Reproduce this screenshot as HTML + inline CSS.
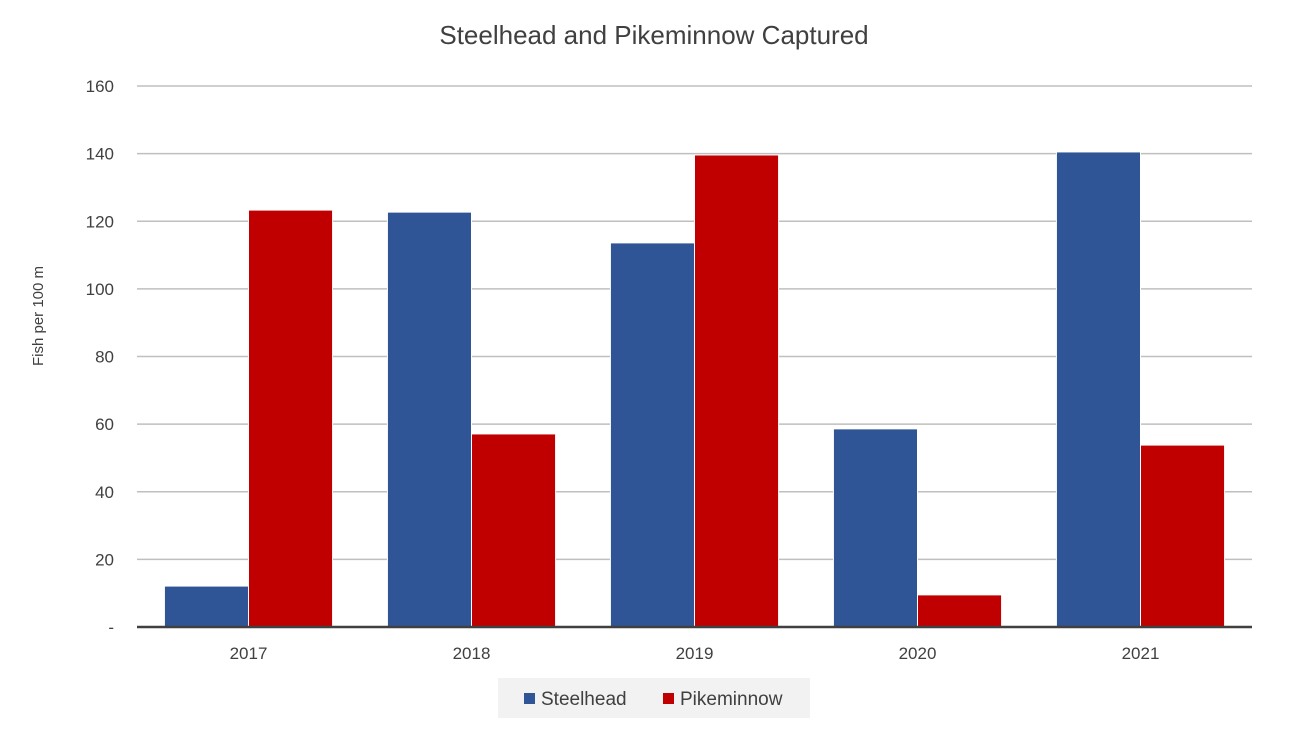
<!DOCTYPE html>
<html><head><meta charset="utf-8"><style>
body{margin:0;background:#fff;font-family:"Liberation Sans",sans-serif;}
svg text{font-family:"Liberation Sans",sans-serif;fill:#404040;}
</style></head><body>
<svg width="1308" height="731">
<text x="654" y="44" font-size="26" text-anchor="middle">Steelhead and Pikeminnow Captured</text>
<text transform="translate(43,316) rotate(-90)" font-size="15" text-anchor="middle">Fish per 100 m</text>
<g id="grid"></g><g id="bars"></g><g id="xl"></g>
<line x1="137" x2="1252" y1="627" y2="627" stroke="#404040" stroke-width="2.5"/>
<rect x="498" y="678" width="312" height="40" fill="#f2f2f2"/>
<rect x="524" y="693" width="11" height="11" fill="#2f5597"/>
<text x="541" y="705" font-size="19">Steelhead</text>
<rect x="663" y="693" width="11" height="11" fill="#c00000"/>
<text x="680" y="705" font-size="19">Pikeminnow</text>
</svg>
<script>
const categories=["2017","2018","2019","2020","2021"];
const steelhead=[12.1,122.7,113.6,58.6,140.5];
const pikeminnow=[123.3,57.1,139.6,9.5,53.8];
const yTicks=[0,20,40,60,80,100,120,140,160];
const yTickLabels=["-","20","40","60","80","100","120","140","160"];
const NS="http://www.w3.org/2000/svg";
const x0=137,x1=1252,yB=627,yT=86,yMax=160;
const y=v=>yB-(v/yMax)*(yB-yT);
const band=(x1-x0)/categories.length;
function mk(t,a,p){const e=document.createElementNS(NS,t);for(const k in a)e.setAttribute(k,a[k]);document.getElementById(p).appendChild(e);return e;}
yTicks.forEach((v,i)=>{
  if(v>0){const l=mk("line",{x1:x0,x2:x1,y1:y(v),y2:y(v),stroke:"#bfbfbf","stroke-width":1.5},"grid");
  
  }
  const t=mk("text",{x:114,y:y(v)+6,"font-size":17,"text-anchor":"end"},"grid");t.textContent=yTickLabels[i];
  
  
});
const bw=band*0.377;
categories.forEach((c,i)=>{
  const cx=x0+band*(i+0.5);
  const b1=mk("rect",{x:cx-bw,y:y(steelhead[i]),width:bw,height:yB-y(steelhead[i]),fill:"#2f5597",stroke:"#fff","stroke-width":1},"bars");
  
  
  const b2=mk("rect",{x:cx,y:y(pikeminnow[i]),width:bw,height:yB-y(pikeminnow[i]),fill:"#c00000",stroke:"#fff","stroke-width":1},"bars");
  
  
  const t=mk("text",{x:cx,y:659,"font-size":17,"text-anchor":"middle"},"xl");t.textContent=c;
  
  
});
</script>
</body></html>
